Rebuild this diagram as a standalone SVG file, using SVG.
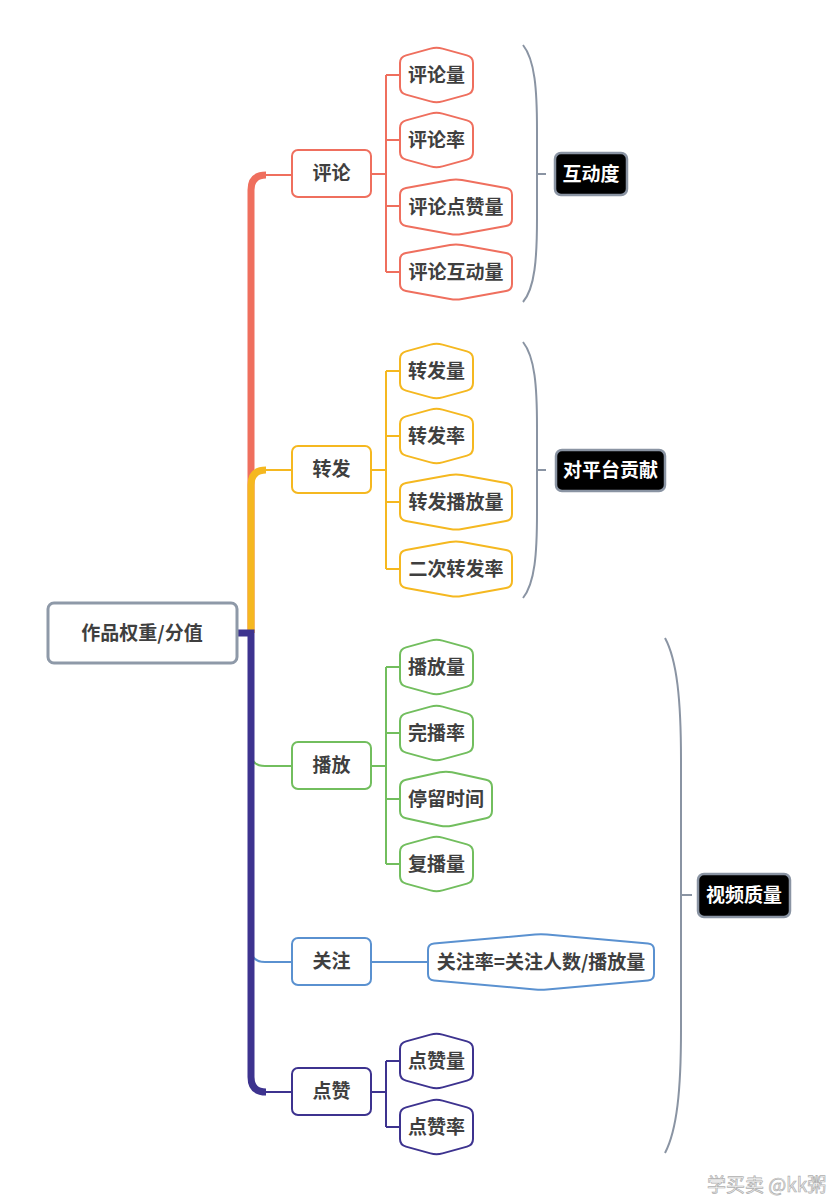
<svg xmlns="http://www.w3.org/2000/svg" xmlns:xlink="http://www.w3.org/1999/xlink" width="838" height="1200" viewBox="0 0 838 1200">
<style>
text{font-family:"Noto Sans CJK SC","Liberation Sans",sans-serif;font-weight:bold;font-size:19px;fill:#3f3f3f;text-anchor:middle}
.lbl{fill:#fff}
.wm{font-weight:normal;font-size:19px;fill:#f4f4f4;stroke:#b0b0b0;stroke-width:0.7;text-anchor:start}
.hex,.box{fill:#fff;stroke-width:2}
.root{fill:#fff;stroke:#8e99a8;stroke-width:3}
.tag{fill:#000;stroke:#8a94a3;stroke-width:2.5}
.brace{fill:none;stroke:#8a94a3;stroke-width:2}
.ln{fill:none;stroke-width:2}
.trunk{fill:none;stroke-width:7;stroke-linecap:butt}
.r{stroke:#EF6F5E}.y{stroke:#F5B820}.g{stroke:#72BE5E}.b{stroke:#5A91D0}.p{stroke:#3D338F}
</style>
<defs>
<path id="hex3" d="M 0,-12 Q 0,-18 6,-19.64 L 30.5,-26.36 Q 36.5,-28 42.5,-26.36 L 67,-19.64 Q 73,-18 73,-12 L 73,12 Q 73,18 67,19.64 L 42.5,26.36 Q 36.5,28 30.5,26.36 L 6,19.64 Q 0,18 0,12 Z"/>
<path id="hex4" d="M 0,-12 Q 0,-18 6,-19.3 L 40,-26.7 Q 46,-28 52,-26.7 L 86,-19.3 Q 92,-18 92,-12 L 92,12 Q 92,18 86,19.3 L 52,26.7 Q 46,28 40,26.7 L 6,19.3 Q 0,18 0,12 Z"/>
<path id="hex5" d="M 0,-12 Q 0,-18 6,-19.07 L 50,-26.93 Q 56,-28 62,-26.93 L 106,-19.07 Q 112,-18 112,-12 L 112,12 Q 112,18 106,19.07 L 62,26.93 Q 56,28 50,26.93 L 6,19.07 Q 0,18 0,12 Z"/>
<path id="hexW" d="M 0,-12 Q 0,-18 6,-18.53 L 107,-27.47 Q 113,-28 119,-27.47 L 220,-18.53 Q 226,-18 226,-12 L 226,12 Q 226,18 220,18.53 L 119,27.47 Q 113,28 107,27.47 L 6,18.53 Q 0,18 0,12 Z"/>
</defs>
<rect width="838" height="1200" fill="#fff"/>

<g id="connectors">
  <path class="trunk r" d="M 251 633 V 190 Q 251 175 266 175"/>
  <path class="ln r" stroke-width="5" d="M 264 175 H 292"/>
  <path class="ln g" d="M 251 752 Q 251 766 265 766 H 292"/>
  <path class="ln b" d="M 251 948 Q 251 962 265 962 H 292"/>
  <path class="trunk y" d="M 251 633 V 485 Q 251 470 266 470"/>
  <path class="ln y" stroke-width="5" d="M 264 470 H 292"/>
  <path class="trunk p" d="M 237 633 H 251 M 251 629.5 V 1077 Q 251 1092 266 1092"/>
  <path class="ln p" stroke-width="5" d="M 264 1092 H 292"/>
  <path class="ln r" d="M 371 174 H 386 M 386 75 V 272 M 386 75 H 400 M 386 140 H 400 M 386 206 H 400 M 386 272 H 400"/>
  <path class="ln y" d="M 371 470 H 386 M 386 371 V 569 M 386 371 H 400 M 386 436 H 400 M 386 502 H 400 M 386 569 H 400"/>
  <path class="ln g" d="M 371 766 H 386 M 386 667 V 864 M 386 667 H 400 M 386 733 H 400 M 386 799 H 400 M 386 864 H 400"/>
  <path class="ln b" d="M 371 962 H 428"/>
  <path class="ln p" d="M 371 1092 H 386 M 386 1061 V 1127 M 386 1061 H 400 M 386 1127 H 400"/>
  <path class="brace" d="M 523 45 C 535 60 537 90 537 130 L 537 218 C 537 258 535 288 523 302 M 537 174 H 546"/>
  <path class="brace" d="M 523 342 C 535 357 537 387 537 427 L 537 513 C 537 553 535 583 523 598 M 537 470 H 546"/>
  <path class="brace" d="M 665 638 C 677 660 681 700 681 760 L 681 1030 C 681 1090 677 1130 665 1153 M 681 895 H 692"/>
</g>

<g id="root"><rect class="root" x="48" y="603" width="189" height="60" rx="6"/><text x="142" y="640">作品权重/分值</text></g>

<g id="n-pinglun"><rect class="box r" x="292" y="150" width="79" height="47" rx="6"/><text x="331.5" y="180">评论</text></g>
<g id="n-zhuanfa"><rect class="box y" x="292" y="446" width="79" height="47" rx="6"/><text x="331.5" y="476">转发</text></g>
<g id="n-bofang"><rect class="box g" x="292" y="742" width="79" height="47" rx="6"/><text x="331.5" y="772">播放</text></g>
<g id="n-guanzhu"><rect class="box b" x="292" y="938" width="79" height="47" rx="6"/><text x="331.5" y="968">关注</text></g>
<g id="n-dianzan"><rect class="box p" x="292" y="1068" width="79" height="47" rx="6"/><text x="331.5" y="1098">点赞</text></g>

<g id="n-plliang"><use href="#hex3" x="400" y="75" class="hex r"/><text x="436.5" y="81.5">评论量</text></g>
<g id="n-pllv"><use href="#hex3" x="400" y="140" class="hex r"/><text x="436.5" y="146.5">评论率</text></g>
<g id="n-pldz"><use href="#hex5" x="400" y="207" class="hex r"/><text x="456" y="213.5">评论点赞量</text></g>
<g id="n-plhd"><use href="#hex5" x="400" y="272" class="hex r"/><text x="456" y="278.5">评论互动量</text></g>

<g id="n-zfliang"><use href="#hex3" x="400" y="371" class="hex y"/><text x="436.5" y="377.5">转发量</text></g>
<g id="n-zflv"><use href="#hex3" x="400" y="436" class="hex y"/><text x="436.5" y="442.5">转发率</text></g>
<g id="n-zfbf"><use href="#hex5" x="400" y="502" class="hex y"/><text x="456" y="508.5">转发播放量</text></g>
<g id="n-eczf"><use href="#hex5" x="400" y="569" class="hex y"/><text x="456" y="575.5">二次转发率</text></g>

<g id="n-bfl"><use href="#hex3" x="400" y="667" class="hex g"/><text x="436.5" y="673.5">播放量</text></g>
<g id="n-wbl"><use href="#hex3" x="400" y="733" class="hex g"/><text x="436.5" y="739.5">完播率</text></g>
<g id="n-tlsj"><use href="#hex4" x="400" y="799" class="hex g"/><text x="446" y="805.5">停留时间</text></g>
<g id="n-fbl"><use href="#hex3" x="400" y="864" class="hex g"/><text x="436.5" y="870.5">复播量</text></g>

<g id="n-gzl"><use href="#hexW" x="428" y="962" class="hex b"/><text x="541" y="968.5">关注率=关注人数/播放量</text></g>

<g id="n-dzl"><use href="#hex3" x="400" y="1061" class="hex p"/><text x="436.5" y="1067.5">点赞量</text></g>
<g id="n-dzlv"><use href="#hex3" x="400" y="1127" class="hex p"/><text x="436.5" y="1133.5">点赞率</text></g>

<g id="t-hudong"><rect class="tag" x="555" y="153" width="72" height="42" rx="6"/><text class="lbl" x="591" y="180.5">互动度</text></g>
<g id="t-gongxian"><rect class="tag" x="556" y="450" width="109" height="41" rx="6"/><text class="lbl" x="610.5" y="477">对平台贡献</text></g>
<g id="t-zhiliang"><rect class="tag" x="698" y="874" width="92" height="43" rx="6"/><text class="lbl" x="744" y="902">视频质量</text></g>

<text class="wm" x="707" y="1192">学买卖 @kk粥</text>
</svg>
